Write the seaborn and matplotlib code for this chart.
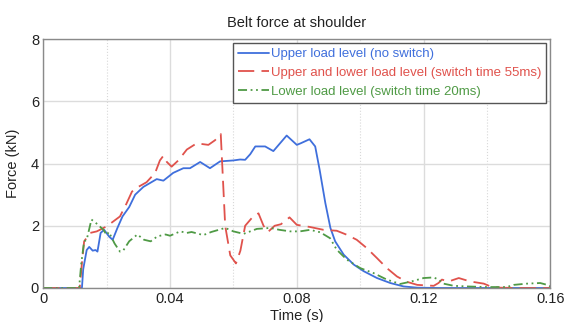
import numpy as np
import pandas as pd
import matplotlib
matplotlib.use("Agg")
import matplotlib.pyplot as plt
from matplotlib.ticker import MultipleLocator
from matplotlib.lines import Line2D
import seaborn as sns

# Belt force at shoulder, three load limiter configurations
labels = [
    "Upper load level (no switch)",
    "Upper and lower load level (switch time 55ms)",
    "Lower load level (switch time 20ms)",
]

upper_t = [0, 0.0122, 0.0126, 0.0137, 0.0145, 0.0156, 0.0165, 0.0171, 0.0181, 0.0192,
           0.0208, 0.0219, 0.0234, 0.025, 0.0271, 0.029, 0.0316, 0.0358, 0.0379, 0.041,
           0.0442, 0.0463, 0.0495, 0.0526, 0.0558, 0.06, 0.0621, 0.0637, 0.0653, 0.0669,
           0.07, 0.0726, 0.0768, 0.08, 0.0812, 0.084, 0.0858, 0.0872, 0.089, 0.0906,
           0.0921, 0.0948, 0.098, 0.1011, 0.1053, 0.1095, 0.1137, 0.118, 0.125, 0.16]
upper_f = [0, 0, 0.6, 1.22, 1.32, 1.2, 1.22, 1.17, 1.77, 1.87,
           1.65, 1.55, 1.93, 2.3, 2.6, 3.0, 3.25, 3.5, 3.45, 3.7,
           3.85, 3.85, 4.05, 3.85, 4.07, 4.1, 4.13, 4.12, 4.3, 4.55,
           4.55, 4.4, 4.9, 4.6, 4.65, 4.78, 4.55, 3.8, 2.73, 1.93,
           1.5, 1.07, 0.75, 0.54, 0.32, 0.16, 0.05, 0.01, 0, 0]

switch_t = [0, 0.0115, 0.0122, 0.0129, 0.0148, 0.0169, 0.02, 0.0221, 0.0242, 0.0262,
            0.028, 0.03, 0.0326, 0.0353, 0.0368, 0.0379, 0.039, 0.0405, 0.0426, 0.0453,
            0.0484, 0.0521, 0.0542, 0.056, 0.0574, 0.059, 0.0608, 0.0622, 0.0637, 0.0658,
            0.0679, 0.0695, 0.0709, 0.073, 0.075, 0.0777, 0.08, 0.0842, 0.0884, 0.0926,
            0.0958, 0.0989, 0.1021, 0.1053, 0.1084, 0.1116, 0.1147, 0.118, 0.1215, 0.1232,
            0.1247, 0.1258, 0.1279, 0.1311, 0.1347, 0.139, 0.1411, 0.1442, 0.1495, 0.16]
switch_f = [0, 0, 0.8, 1.5, 1.77, 1.82, 1.98, 2.14, 2.3, 2.7,
            3.1, 3.25, 3.4, 3.7, 4.1, 4.25, 4.05, 3.9, 4.1, 4.45,
            4.65, 4.6, 4.75, 4.95, 2.0, 1.05, 0.79, 1.2, 2.0, 2.25,
            2.4, 2.0, 1.8, 2.0, 2.05, 2.27, 2.03, 1.96, 1.87, 1.84,
            1.71, 1.55, 1.28, 0.96, 0.64, 0.37, 0.2, 0.1, 0.08, 0.07,
            0.16, 0.27, 0.21, 0.32, 0.21, 0.14, 0.05, 0.01, 0, 0]

lower_t = [0, 0.0113, 0.012, 0.0129, 0.0137, 0.0152, 0.0165, 0.019, 0.02, 0.0207,
           0.0225, 0.0242, 0.0252, 0.0271, 0.0297, 0.0318, 0.0339, 0.036, 0.0386, 0.04,
           0.0432, 0.0453, 0.0468, 0.0505, 0.053, 0.0574, 0.06, 0.0632, 0.0674, 0.0716,
           0.0745, 0.0779, 0.081, 0.0842, 0.0874, 0.0905, 0.0926, 0.0958, 0.1, 0.1042,
           0.1084, 0.1126, 0.1158, 0.12, 0.1232, 0.1247, 0.1263, 0.1295, 0.1337, 0.14,
           0.1463, 0.1484, 0.1526, 0.1568, 0.159, 0.16]
lower_f = [0, 0, 0.8, 1.5, 1.55, 2.2, 2.1, 1.87, 1.7, 1.8,
           1.43, 1.17, 1.2, 1.5, 1.72, 1.55, 1.5, 1.66, 1.72, 1.68,
           1.82, 1.77, 1.8, 1.7, 1.8, 1.93, 1.82, 1.74, 1.9, 1.93,
           1.87, 1.82, 1.82, 1.87, 1.79, 1.6, 1.23, 0.91, 0.64, 0.48,
           0.27, 0.13, 0.2, 0.32, 0.34, 0.27, 0.14, 0.07, 0.05, 0.03,
           0.03, 0.1, 0.14, 0.16, 0.1, 0.05]

colors = ["#3f6fdc", "#e0524c", "#4f9a45"]
dash_styles = ["", (9, 4), (5, 2, 1, 2, 1, 2)]

df = pd.concat([
    pd.DataFrame({"Time (s)": upper_t, "Force (kN)": upper_f, "case": labels[0]}),
    pd.DataFrame({"Time (s)": switch_t, "Force (kN)": switch_f, "case": labels[1]}),
    pd.DataFrame({"Time (s)": lower_t, "Force (kN)": lower_f, "case": labels[2]}),
], ignore_index=True)

sns.set_style("white")
plt.rcParams["font.family"] = ["Liberation Sans", "DejaVu Sans"]

fig = plt.figure(figsize=(5.73, 3.22), dpi=100)
ax = fig.add_axes([0.0755, 0.1056, 0.885, 0.773])

sns.lineplot(
    data=df, x="Time (s)", y="Force (kN)", hue="case", style="case",
    hue_order=labels, style_order=labels,
    palette=dict(zip(labels, colors)), dashes=dict(zip(labels, dash_styles)),
    estimator=None, sort=False, linewidth=1.3, ax=ax, legend=False,
)

ax.set_xlim(0, 0.16)
ax.set_ylim(0, 8)
ax.xaxis.set_minor_locator(MultipleLocator(0.02))
ax.set_xticks([0, 0.04, 0.08, 0.12, 0.16])
ax.set_xticklabels(["0", "0.04", "0.08", "0.12", "0.16"])
ax.set_yticks([0, 2, 4, 6, 8])
ax.set_yticklabels(["0", "2", "4", "6", "8"])

ax.grid(True, which="major", color="#dcdcdc", linewidth=1.0)
ax.grid(True, which="minor", axis="x", color="#d8d8d8", linewidth=0.8, linestyle=":")
ax.set_axisbelow(True)
for sp in ax.spines.values():
    sp.set_color("#8a8a8a")
    sp.set_linewidth(1.0)

ax.tick_params(axis="both", which="both", length=0, labelsize=10.5, colors="#222222", pad=3)
ax.set_xlabel("Time (s)", fontsize=10.5, color="#222222", labelpad=2)
ax.set_ylabel("Force (kN)", fontsize=10.5, color="#222222", labelpad=8)
ax.set_title("Belt force at shoulder", fontsize=10.5, color="#222222", pad=9)

handles = []
for c, d in zip(colors, dash_styles):
    h = Line2D([], [], color=c, linewidth=1.3)
    if d:
        h.set_dashes(d)
    handles.append(h)
leg = ax.legend(
    handles, labels, loc="upper right", bbox_to_anchor=(1.0, 1.0),
    fontsize=9.55, frameon=True, fancybox=False, framealpha=1,
    edgecolor="#555555", handlelength=2.35, handletextpad=0.15,
    labelspacing=0.48, borderpad=0.38, borderaxespad=0.3, labelcolor="linecolor",
)
leg.get_frame().set_linewidth(1.0)

fig.savefig("out.png", dpi=100)
